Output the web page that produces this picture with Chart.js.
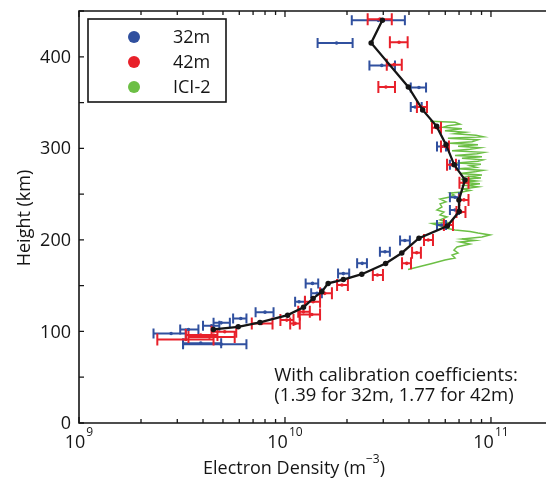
<!DOCTYPE html>
<html>
<head>
<meta charset="utf-8">
<script src="https://cdn.jsdelivr.net/npm/chart.js@4/dist/chart.umd.min.js"></script>
<style>
  html, body { margin: 0; padding: 0; background: #fff; overflow: hidden; }
  #wrap { width: 546px; height: 481px; }
</style>
</head>
<body>
<div id="wrap"><canvas id="c" width="546" height="481"></canvas></div>
<script>
// Electron density in units of 1e10 m^-3, height in km.

// 32m radar: height, density, lower / upper error bound
const height32 = [439.8, 415.1, 390.6, 366.5, 345.1, 302.0, 282.0, 246.6, 232.7, 216.3, 199.3, 187.1, 174.4, 163.2, 152.5, 141.6, 132.4, 121.1, 114.2, 109.4, 106.1, 102.2, 97.8, 86.1, 87.2];
const dens32   = [2.84, 1.78, 2.95, 4.47, 4.28, 5.76, 6.69, 6.69, 6.69, 5.76, 3.82, 3.06, 2.37, 1.92, 1.36, 1.43, 1.17, 0.80, 0.61, 0.49, 0.44, 0.34, 0.28, 0.49, 0.39];
const lo32     = [2.11, 1.44, 2.57, 4.08, 4.08, 5.47, 6.32, 6.32, 6.32, 5.47, 3.62, 2.89, 2.24, 1.81, 1.26, 1.34, 1.12, 0.72, 0.56, 0.45, 0.40, 0.31, 0.23, 0.32, 0.32];
const hi32     = [3.82, 2.13, 3.42, 4.84, 4.61, 6.05, 6.99, 6.99, 6.99, 6.05, 4.04, 3.23, 2.50, 2.05, 1.45, 1.51, 1.25, 0.88, 0.65, 0.54, 0.48, 0.38, 0.33, 0.65, 0.49];

// 42m radar
const height42 = [441.1, 415.8, 391.4, 367.0, 345.1, 322.4, 302.0, 282.0, 262.3, 243.7, 230.5, 216.3, 199.9, 186.0, 174.4, 161.6, 150.7, 141.6, 132.4, 118.5, 121.4, 108.8, 112.4, 108.8, 99.6, 91.2, 96.0, 93.8];
const dens42   = [2.89, 3.58, 3.39, 3.09, 4.61, 5.45, 5.98, 6.45, 7.39, 7.39, 7.15, 6.21, 4.96, 4.36, 3.90, 2.81, 1.89, 1.56, 1.37, 1.35, 1.23, 1.12, 1.02, 0.77, 0.51, 0.33, 0.39, 0.43];
const lo42     = [2.52, 3.23, 3.12, 2.84, 4.37, 5.17, 5.72, 6.12, 7.03, 7.03, 6.80, 5.91, 4.73, 4.14, 3.70, 2.67, 1.79, 1.48, 1.25, 1.18, 1.16, 1.06, 0.95, 0.69, 0.44, 0.24, 0.33, 0.34];
const hi42     = [3.30, 3.94, 3.69, 3.42, 4.89, 5.72, 6.25, 6.76, 7.78, 7.78, 7.52, 6.54, 5.23, 4.57, 4.09, 2.99, 2.02, 1.69, 1.48, 1.48, 1.32, 1.18, 1.10, 0.87, 0.58, 0.45, 0.47, 0.57];

// Combined profile
const heightAvg = [440, 415.1, 367, 342, 324, 304, 282, 265.5, 243.7, 231, 215.2, 201.8, 185.7, 174.2, 162.5, 156.7, 152.5, 143.3, 136.1, 126.3, 117.8, 109.8, 105, 102.2];
const densAvg   = [2.97, 2.62, 3.97, 4.66, 5.45, 6.05, 6.63, 7.48, 6.99, 7.01, 6.14, 4.47, 3.69, 3.08, 2.36, 1.92, 1.62, 1.51, 1.37, 1.23, 1.03, 0.756, 0.593, 0.449];

// ICI-2 rocket profile
const heightICI = [167.6, 170.9, 174.2, 178.0, 180.2, 183.5, 185.7, 188.9, 192.2, 195.5, 197.7, 199.3, 201.0, 203.2, 205.4, 207.5, 209.2, 210.8, 212.5, 215.2, 217.9, 219.0, 221.8, 225.1, 227.2, 230.5, 232.7, 236.0, 239.3, 241.5, 244.7, 246.9, 249.1, 251.3, 252.4, 254.0, 255.7, 257.9, 259.5, 261.2, 262.8, 264.4, 266.1, 267.7, 269.4, 271.0, 272.6, 274.3, 275.9, 277.6, 279.2, 280.9, 282.5, 284.1, 285.8, 287.4, 289.1, 290.7, 292.3, 294.0, 295.6, 297.3, 298.9, 300.5, 302.2, 303.8, 305.5, 307.1, 309.3, 310.9, 312.6, 314.2, 315.9, 317.5, 319.1, 321.3, 323.0, 324.6, 326.3, 328.4, 329.5];
const densICI   = [3.96, 4.52, 5.17, 5.98, 6.69, 6.47, 6.92, 6.61, 6.84, 7.91, 7.07, 8.36, 7.23, 9.04, 9.89, 8.65, 7.91, 6.69, 6.18, 5.66, 5.17, 6.18, 5.66, 6.12, 5.66, 5.91, 5.47, 5.78, 5.66, 6.05, 5.66, 6.32, 6.61, 6.32, 7.23, 7.91, 7.31, 8.65, 7.56, 8.84, 7.23, 8.46, 7.15, 8.94, 7.73, 9.04, 7.07, 8.36, 9.15, 6.92, 8.46, 7.91, 8.94, 6.84, 8.65, 9.15, 7.23, 9.04, 6.69, 8.55, 9.25, 6.47, 7.91, 8.84, 6.92, 8.65, 6.32, 8.09, 8.65, 6.18, 9.15, 8.46, 6.69, 7.48, 5.98, 7.23, 5.85, 6.18, 7.07, 6.69, 5.06];

// Axis ticks
const yTickValues = [0, 50, 100, 150, 200, 250, 300, 350, 400, 450];
const yTickLabels = ['0', '', '100', '', '200', '', '300', '', '400', ''];
const xDecades = [9, 10, 11];

const annotationLines = ['With calibration coefficients:', '(1.39 for 32m, 1.77 for 42m)'];

const UNIT = 1e10;
const FONT = '"Open Sans", "DejaVu Sans", sans-serif';
const BLUE = '#30509f';
const RED = '#e8202a';
const GREEN = '#6cbf45';
const INK = '#151515';

const pts = (xs, ys) => xs.map((v, i) => ({ x: v * UNIT, y: ys[i] }));

// Horizontal error bars with end caps, drawn right after their dataset
const errorBars = {
  id: 'errorBars',
  afterDatasetDraw(chart, args) {
    const ds = chart.data.datasets[args.index];
    if (!ds.errLo) return;
    const { ctx, chartArea } = chart;
    const xs = chart.scales.x, ys = chart.scales.y;
    ctx.save();
    ctx.beginPath();
    ctx.rect(chartArea.left, chartArea.top, chartArea.right - chartArea.left, chartArea.bottom - chartArea.top);
    ctx.clip();
    ctx.strokeStyle = ds.borderColor;
    ctx.lineWidth = 2;
    const cap = ds.capHalf;
    ds.data.forEach((p, i) => {
      const py = ys.getPixelForValue(p.y);
      const x0 = xs.getPixelForValue(ds.errLo[i] * UNIT);
      const x1 = xs.getPixelForValue(ds.errHi[i] * UNIT);
      ctx.beginPath();
      ctx.moveTo(x0, py); ctx.lineTo(x1, py);
      ctx.moveTo(x0, py - cap); ctx.lineTo(x0, py + cap);
      ctx.moveTo(x1, py - cap); ctx.lineTo(x1, py + cap);
      ctx.stroke();
    });
    ctx.restore();
  }
};

// Frame, inward ticks, tick labels, titles, legend box and note
const frame = {
  id: 'frame',
  afterDraw(chart) {
    const { ctx, chartArea: a } = chart;
    const xs = chart.scales.x, ys = chart.scales.y;
    ctx.save();
    ctx.strokeStyle = INK;
    ctx.lineWidth = 1.6;
    ctx.beginPath();
    ctx.moveTo(a.right + 2, a.top);
    ctx.lineTo(a.left, a.top);
    ctx.lineTo(a.left, a.bottom);
    ctx.lineTo(a.right + 2, a.bottom);
    ctx.stroke();

    // log ticks along bottom and top
    ctx.lineWidth = 1.3;
    ctx.beginPath();
    xDecades.forEach(d => {
      for (let m = 1; m < 10; m++) {
        const v = m * Math.pow(10, d);
        if (v > xs.max) break;
        const px = xs.getPixelForValue(v);
        const len = m === 1 ? 6 : 4;
        ctx.moveTo(px, a.bottom); ctx.lineTo(px, a.bottom - len);
        ctx.moveTo(px, a.top); ctx.lineTo(px, a.top + len);
      }
    });
    yTickValues.forEach(v => {
      const py = ys.getPixelForValue(v);
      ctx.moveTo(a.left, py); ctx.lineTo(a.left + 5, py);
    });
    ctx.stroke();

    ctx.fillStyle = INK;
    // y tick labels
    ctx.font = '18px ' + FONT;
    ctx.textAlign = 'right';
    ctx.textBaseline = 'middle';
    yTickValues.forEach((v, i) => {
      if (!yTickLabels[i]) return;
      ctx.fillText(yTickLabels[i], a.left - 8, ys.getPixelForValue(v) + 1);
    });

    // x tick labels: 10 with superscript exponent
    ctx.textBaseline = 'alphabetic';
    ctx.textAlign = 'left';
    xDecades.forEach(d => {
      const px = xs.getPixelForValue(Math.pow(10, d));
      ctx.font = '18px ' + FONT;
      const wBase = ctx.measureText('10').width;
      ctx.font = '12px ' + FONT;
      const wExp = ctx.measureText(String(d)).width;
      const x0 = px - (wBase + 1 + wExp) / 2;
      ctx.font = '18px ' + FONT;
      ctx.fillText('10', x0, 448);
      ctx.font = '12px ' + FONT;
      ctx.fillText(String(d), x0 + wBase + 1, 436);
    });

    // x axis title with superscript unit
    const t1 = 'Electron Density (m', t2 = '\u22123', t3 = ')';
    ctx.font = '18px ' + FONT;
    const w1 = ctx.measureText(t1).width, w3 = ctx.measureText(t3).width;
    ctx.font = '12px ' + FONT;
    const w2 = ctx.measureText(t2).width;
    let tx = 294 - (w1 + w2 + w3) / 2;
    ctx.font = '18px ' + FONT;
    ctx.fillText(t1, tx, 474);
    ctx.font = '12px ' + FONT;
    ctx.fillText(t2, tx + w1, 463);
    ctx.font = '18px ' + FONT;
    ctx.fillText(t3, tx + w1 + w2, 474);

    // y axis title
    ctx.save();
    ctx.translate(25, 218);
    ctx.rotate(-Math.PI / 2);
    ctx.textAlign = 'center';
    ctx.textBaseline = 'middle';
    ctx.font = '18px ' + FONT;
    ctx.fillText('Height (km)', 0, 0);
    ctx.restore();

    // note
    ctx.textAlign = 'center';
    ctx.font = '18.5px ' + FONT;
    ctx.fillText(annotationLines[0], 396, 381);
    ctx.fillText(annotationLines[1], 394, 401);

    // legend
    ctx.fillStyle = '#fff';
    ctx.fillRect(88, 19, 138, 83);
    ctx.strokeStyle = INK;
    ctx.lineWidth = 1.6;
    ctx.strokeRect(88, 19, 138, 83);
    const items = chart.data.datasets.filter(ds => ds.legendRow !== undefined)
      .sort((p, q) => p.legendRow - q.legendRow);
    items.forEach((ds, i) => {
      const cy = 37 + i * 25;
      ctx.beginPath();
      ctx.fillStyle = ds.borderColor;
      ctx.arc(134, cy, 6, 0, Math.PI * 2);
      ctx.fill();
      ctx.fillStyle = INK;
      ctx.textAlign = 'left';
      ctx.textBaseline = 'middle';
      ctx.font = '18px ' + FONT;
      ctx.fillText(ds.label, 173, cy + 1);
    });
    ctx.restore();
  }
};

new Chart(document.getElementById('c'), {
  type: 'scatter',
  data: {
    datasets: [
      {
        label: 'ICI-2', legendRow: 2, order: 4,
        data: pts(densICI, heightICI),
        showLine: true, borderColor: GREEN, backgroundColor: GREEN,
        borderWidth: 1.5, pointRadius: 0, tension: 0
      },
      {
        label: '32m', legendRow: 0, order: 3,
        data: pts(dens32, height32),
        errLo: lo32, errHi: hi32, capHalf: 5,
        borderColor: BLUE, backgroundColor: BLUE,
        pointRadius: 1.8, borderWidth: 0
      },
      {
        label: '42m', legendRow: 1, order: 2,
        data: pts(dens42, height42),
        errLo: lo42, errHi: hi42, capHalf: 6,
        borderColor: RED, backgroundColor: RED,
        pointRadius: 1.8, borderWidth: 0
      },
      {
        label: 'profile', order: 1,
        data: pts(densAvg, heightAvg),
        showLine: true, borderColor: INK, backgroundColor: INK,
        borderWidth: 2.3, pointRadius: 1.6, tension: 0
      }
    ]
  },
  options: {
    responsive: false,
    animation: false,
    events: [],
    layout: { autoPadding: false, padding: { left: 79, right: 0, top: 11, bottom: 58 } },
    scales: {
      x: { type: 'logarithmic', min: 1e9, max: 1.85e11, display: false },
      y: { type: 'linear', min: 0, max: 450, display: false }
    },
    plugins: { legend: { display: false }, tooltip: { enabled: false } }
  },
  plugins: [errorBars, frame]
});
</script>
</body>
</html>
